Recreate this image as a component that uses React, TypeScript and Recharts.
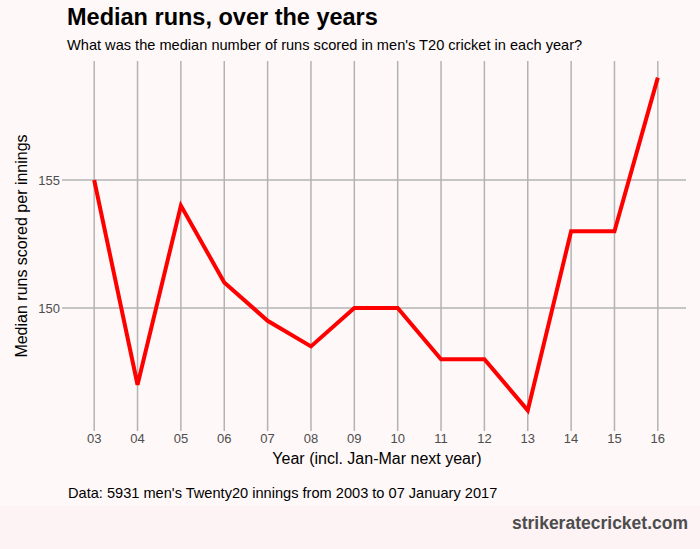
import React from "react";
import { LineChart, Line, XAxis, YAxis, CartesianGrid } from "recharts";

const years = [3, 4, 5, 6, 7, 8, 9, 10, 11, 12, 13, 14, 15, 16];
const medianRuns = [155, 147, 154, 151, 149.5, 148.5, 150, 150, 148, 148, 146, 153, 153, 159];
const yTicks = [150, 155];

const data = years.map((y, i) => ({ year: y, runs: medianRuns[i] }));

const FONT = "'Liberation Sans', Arial, Helvetica, sans-serif";

export default function App() {
  return (
    <div
      style={{
        position: "absolute",
        left: 0,
        top: 0,
        width: 700,
        height: 549,
        background: "#fef8f8",
        fontFamily: FONT,
        overflow: "hidden",
      }}
    >
      <div style={{ position: "absolute", left: 0, top: 506, width: 700, height: 43, background: "#fdf3f4" }} />
      <div style={{ position: "absolute", left: 67, top: 4, fontSize: 23.5, fontWeight: "bold", color: "#000" }}>
        Median runs, over the years
      </div>
      <div style={{ position: "absolute", left: 67, top: 37, fontSize: 14.6, color: "#000" }}>
        What was the median number of runs scored in men's T20 cricket in each year?
      </div>
      <div style={{ position: "absolute", left: 68, top: 485, fontSize: 14.6, color: "#000" }}>
        Data: 5931 men's Twenty20 innings from 2003 to 07 January 2017
      </div>
      <div
        style={{
          position: "absolute",
          right: 12,
          top: 513,
          fontSize: 17.5,
          fontWeight: "bold",
          color: "#4d4d4d",
        }}
      >
        strikeratecricket.com
      </div>
      <div
        style={{
          position: "absolute",
          left: 377,
          top: 459,
          transform: "translate(-50%, -50%)",
          whiteSpace: "nowrap",
          fontSize: 16,
          color: "#000",
        }}
      >
        Year (incl. Jan-Mar next year)
      </div>
      <div
        style={{
          position: "absolute",
          left: 22,
          top: 246,
          transform: "translate(-50%, -50%) rotate(-90deg)",
          whiteSpace: "nowrap",
          fontSize: 16,
          color: "#000",
        }}
      >
        Median runs scored per innings
      </div>
      <div style={{ position: "absolute", left: 0, top: 0 }}>
        <LineChart
          width={700}
          height={549}
          data={data}
          margin={{ top: 61, right: 14, bottom: 92, left: 26 }}
          style={{ fontFamily: FONT }}
        >
          <CartesianGrid stroke="#b3b3b3" strokeWidth={1.5} horizontalValues={yTicks} verticalValues={years} />
          <XAxis
            dataKey="year"
            type="number"
            domain={[2.35, 16.65]}
            ticks={years}
            interval={0}
            tickFormatter={(v: number) => String(v).padStart(2, "0")}
            axisLine={false}
            tickLine={{ stroke: "#b3b3b3", strokeWidth: 1.5 }}
            tickSize={4}
            tickMargin={3}
            tick={{ fill: "#4d4d4d", fontSize: 13 }}
            height={30}
          />
          <YAxis
            type="number"
            domain={[145.35, 159.65]}
            ticks={yTicks}
            axisLine={false}
            tickLine={{ stroke: "#b3b3b3", strokeWidth: 1.5 }}
            tickSize={4}
            tickMargin={2}
            tick={{ fill: "#4d4d4d", fontSize: 13 }}
            width={40}
          />
          <Line
            type="linear"
            dataKey="runs"
            stroke="#ff0000"
            strokeWidth={4}
            dot={false}
            isAnimationActive={false}
          />
        </LineChart>
      </div>
    </div>
  );
}
